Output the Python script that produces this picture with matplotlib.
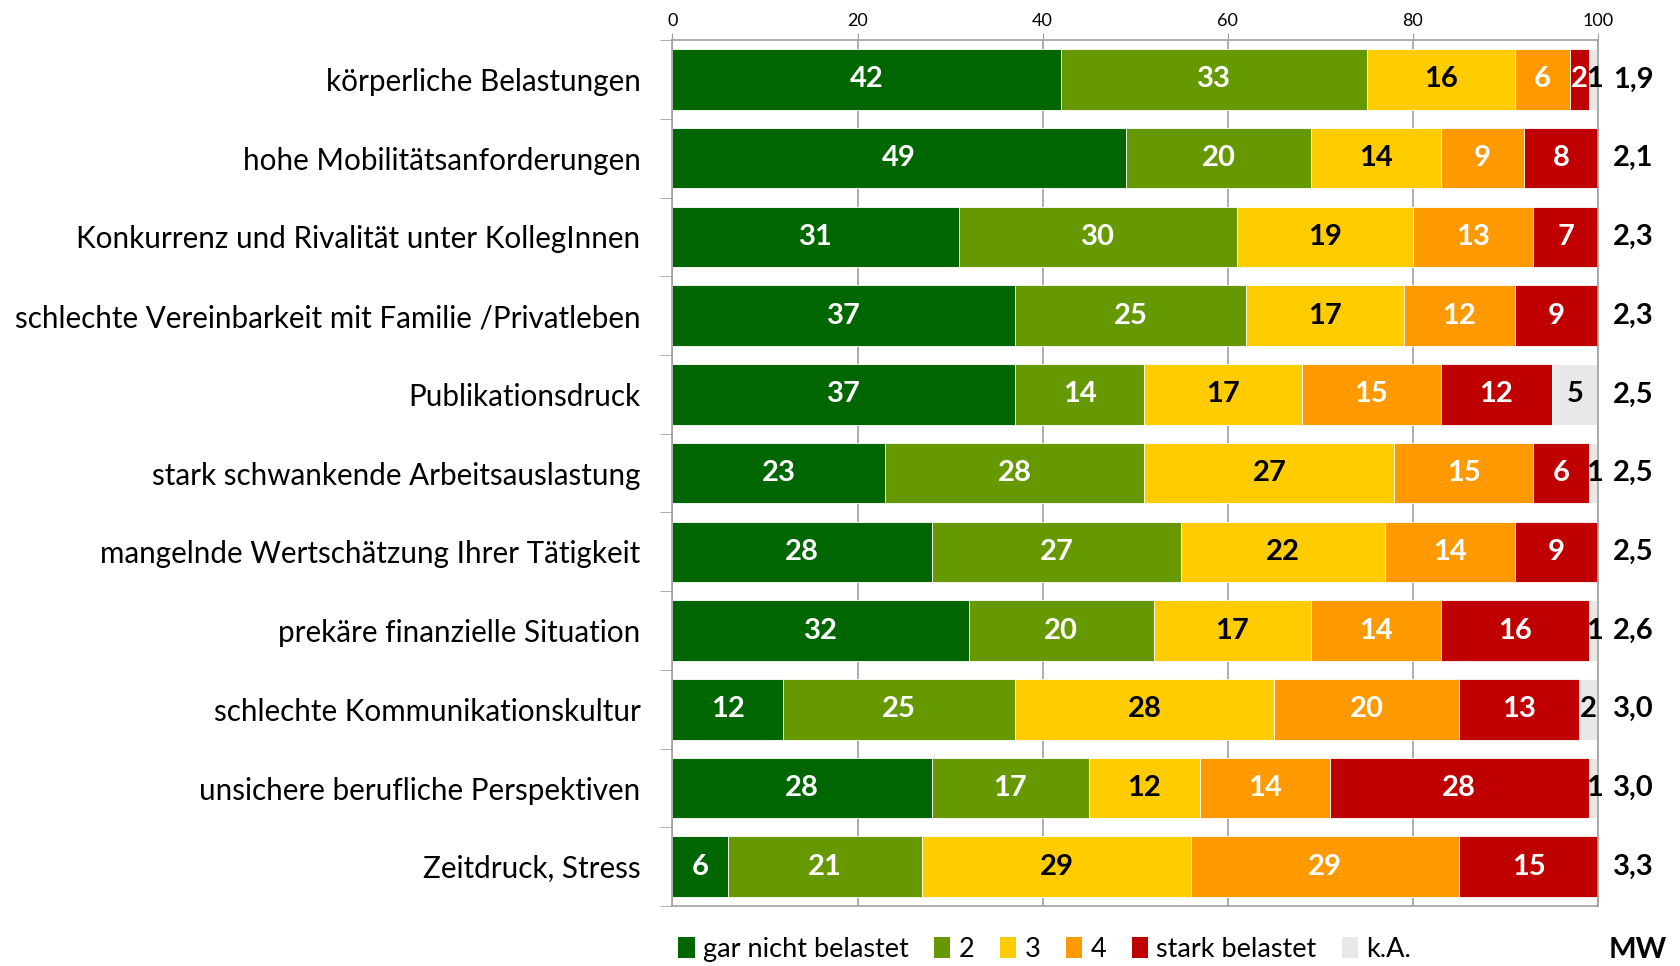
import numpy as np
import matplotlib.pyplot as plt
from matplotlib.patches import Patch

plt.rcParams['font.family'] = ['Lato', 'DejaVu Sans']

categories = [
    "körperliche Belastungen",
    "hohe Mobilitätsanforderungen",
    "Konkurrenz und Rivalität unter KollegInnen",
    "schlechte Vereinbarkeit mit Familie /Privatleben",
    "Publikationsdruck",
    "stark schwankende Arbeitsauslastung",
    "mangelnde Wertschätzung Ihrer Tätigkeit",
    "prekäre finanzielle Situation",
    "schlechte Kommunikationskultur",
    "unsichere berufliche Perspektiven",
    "Zeitdruck, Stress",
]
gar_nicht = [42, 49, 31, 37, 37, 23, 28, 32, 12, 28, 6]
stufe2 = [33, 20, 30, 25, 14, 28, 27, 20, 25, 17, 21]
stufe3 = [16, 14, 19, 17, 17, 27, 22, 17, 28, 12, 29]
stufe4 = [6, 9, 13, 12, 15, 15, 14, 14, 20, 14, 29]
stark = [2, 8, 7, 9, 12, 6, 9, 16, 13, 28, 15]
ka = [1, 0, 0, 0, 5, 1, 0, 1, 2, 1, 0]
mw = ["1,9", "2,1", "2,3", "2,3", "2,5", "2,5", "2,5", "2,6", "3,0", "3,0", "3,3"]

series = [gar_nicht, stufe2, stufe3, stufe4, stark, ka]
names = ["gar nicht belastet", "2", "3", "4", "stark belastet", "k.A."]
colors = ["#006600", "#669900", "#FFCC00", "#FF9900", "#C00000", "#E8E8E8"]
text_colors = ["white", "white", "black", "white", "white", "black"]

fig = plt.figure(figsize=(16.81, 9.66), dpi=100)
ax = fig.add_axes([0.400, 0.062, 0.5506, 0.8965])

y = np.arange(len(categories))
left = np.zeros(len(categories))
for vals, c, tc in zip(series, colors, text_colors):
    vals = np.array(vals, dtype=float)
    ax.barh(y, vals, left=left, height=0.77, color=c, edgecolor="white",
            linewidth=0.6, zorder=2)
    for yi, (l, v) in enumerate(zip(left, vals)):
        if v <= 0:
            continue
        if v <= 1:
            # tiny k.A. share: label sits at the bar end
            ax.text(l + v / 2 + 0.1, yi, f"{int(v)}", ha="center", va="center",
                    color="black", fontsize=21, fontweight="bold", zorder=3)
        else:
            ax.text(l + v / 2, yi, f"{int(v)}", ha="center", va="center",
                    color=tc, fontsize=21, fontweight="bold", zorder=3)
    left += vals

for yi, m in enumerate(mw):
    ax.text(103.8, yi, m, ha="center", va="center", fontsize=21,
            fontweight="bold", clip_on=False)

ax.set_xlim(0, 100)
ax.set_ylim(len(categories) - 0.5, -0.5)
ax.xaxis.tick_top()
ax.set_xticks(range(0, 101, 20))
ax.tick_params(axis="x", labelsize=13, length=5, color="#A0A0A0", pad=3)
ax.set_yticks(y)
ax.set_yticklabels(categories, fontsize=21.3)
ax.tick_params(axis="y", which="major", length=0, pad=23)
ax.set_yticks(np.arange(-0.5, len(categories)), minor=True)
ax.tick_params(axis="y", which="minor", length=9, color="#A0A0A0")
ax.grid(axis="x", color="#A0A0A0", linewidth=1.2, zorder=0)
ax.set_axisbelow(True)
for s in ax.spines.values():
    s.set_color("#A0A0A0")
    s.set_linewidth(1.2)

handles = [Patch(facecolor=c, label=n) for c, n in zip(colors, names)]
fig.legend(handles=handles, loc="center left", bbox_to_anchor=(0.389, 0.017),
           ncol=6, frameon=False, fontsize=19.5, handlelength=0.6,
           handleheight=0.8, handletextpad=0.3, columnspacing=0.95)
fig.text(0.974, 0.017, "MW", ha="center", va="center", fontsize=21,
         fontweight="bold")

fig.savefig("out.png", dpi=100)
